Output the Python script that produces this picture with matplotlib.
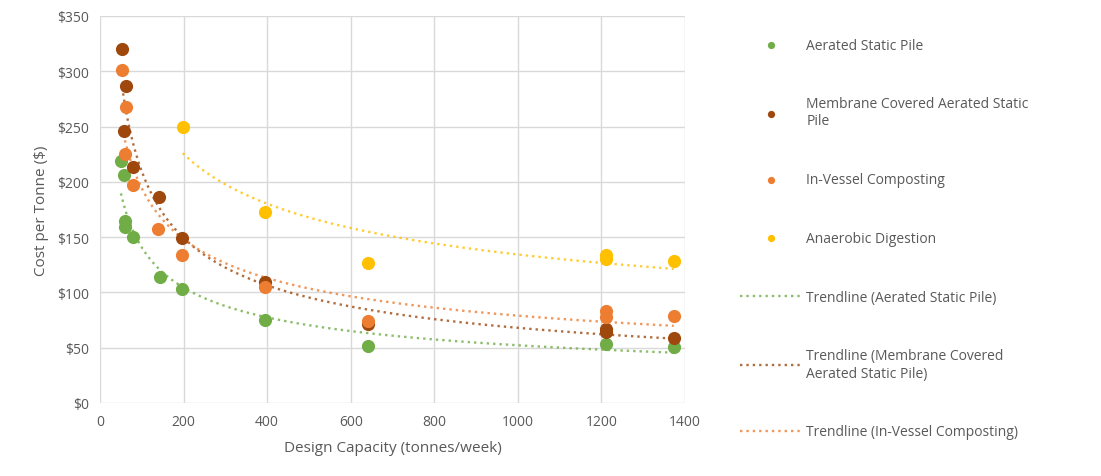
import matplotlib
matplotlib.use("Agg")
import matplotlib.pyplot as plt
import numpy as np

# data
asp_x = [50, 57, 60, 61, 79, 144, 196, 395, 642, 1212, 1373]
asp_y = [219, 206, 165, 159, 150, 114, 103, 75, 52, 53, 51]

mcasp_x = [53, 62, 58, 79, 141, 197, 395, 642, 1212, 1212, 1373]
mcasp_y = [320, 287, 246, 213, 186, 149, 109, 71, 67, 64, 59]

ivc_x = [53, 62, 60, 79, 139, 197, 395, 642, 1212, 1212, 1373]
ivc_y = [301, 268, 225, 197, 157, 134, 105, 74, 83, 78, 79]

ad_x = [198, 395, 642, 1212, 1212, 1373]
ad_y = [250, 173, 127, 134, 130, 128]

x_ticks = [0, 200, 400, 600, 800, 1000, 1200, 1400]
y_ticks = [0, 50, 100, 150, 200, 250, 300, 350]

plt.rcParams['font.family'] = ['Open Sans', 'DejaVu Sans']
txt = '#595959'

fig = plt.figure(figsize=(11.01, 4.77), dpi=100)
ax = fig.add_axes([100/1101, 1 - 404/477, 585/1101, 387/477])


def power_trend(x, y):
    # excel-style power trendline fitted in log space
    b, loga = np.polyfit(np.log(x), np.log(y), 1)
    xs = np.linspace(min(x), max(x), 200)
    return xs, np.exp(loga) * xs ** b


series = [
    (asp_x, asp_y, '#70AD47', 'Aerated Static Pile'),
    (mcasp_x, mcasp_y, '#9E480E', 'Membrane Covered Aerated Static\nPile'),
    (ivc_x, ivc_y, '#ED7D31', 'In-Vessel Composting'),
    (ad_x, ad_y, '#FFC000', 'Anaerobic Digestion'),
]
trend_names = ['Trendline (Aerated Static Pile)',
               'Trendline (Membrane Covered\nAerated Static Pile)',
               'Trendline (In-Vessel Composting)', None]

pts = []
trends = []
for (x, y, c, name), tname in zip(series, trend_names):
    p = ax.scatter(x, y, s=90, color=c, zorder=3, label=name, linewidths=0)
    pts.append(p)
    xs, ys = power_trend(x, y)
    l, = ax.plot(xs, ys, color=c, lw=1.7, linestyle=(0, (1, 1.7)), zorder=2,
                 alpha=0.8, label=tname if tname else '_nolegend_')
    if tname:
        trends.append(l)

ax.set_xlim(0, 1400)
ax.set_ylim(0, 350)
ax.set_xticks(x_ticks)
ax.set_yticks(y_ticks, labels=['$' + str(v) for v in y_ticks])
ax.grid(True, color='#D9D9D9', lw=1)
ax.set_axisbelow(True)
for s in ax.spines.values():
    s.set_visible(False)
ax.tick_params(length=0, labelsize=10, colors=txt, pad=8)
ax.set_xlabel('Design Capacity (tonnes/week)', fontsize=11, color=txt, labelpad=8)
ax.set_ylabel('Cost per Tonne ($)', fontsize=11, color=txt, labelpad=6)

leg = fig.legend(handles=pts + trends, loc='upper left',
                 bbox_to_anchor=(727/1101, 1 - 26/477), frameon=False,
                 fontsize=10, labelcolor=txt, labelspacing=3.15,
                 handlelength=4.6, handletextpad=0.2, markerscale=0.55)

fig.savefig('out.png', dpi=100)
